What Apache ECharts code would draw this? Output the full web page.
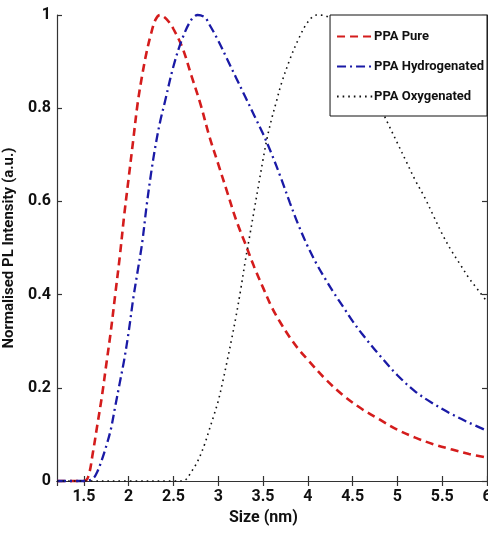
<!DOCTYPE html>
<html><head><meta charset="utf-8">
<script src="https://cdn.jsdelivr.net/npm/echarts@6/dist/echarts.min.js"></script>
<style>html,body{margin:0;padding:0;background:#fff}#c{width:488px;height:537px}</style>
</head><body><div id="c"></div>
<script>
const seriesNames = ['PPA Pure', 'PPA Hydrogenated', 'PPA Oxygenated'];
const pureX = [1.2,1.3,1.4,1.5,1.55,1.6,1.65,1.7,1.75,1.8,1.85,1.9,1.95,2.0,2.05,2.1,2.15,2.2,2.25,2.3,2.35,2.4,2.45,2.5,2.6,2.7,2.8,2.9,3.0,3.1,3.2,3.3,3.4,3.5,3.6,3.7,3.8,3.9,4.0,4.2,4.4,4.6,4.8,5.0,5.2,5.4,5.6,5.8,6.0];
const pureY = [0,0,0,0,0.01,0.06,0.12,0.18,0.25,0.32,0.40,0.48,0.57,0.65,0.73,0.81,0.87,0.92,0.96,0.99,1.0,0.995,0.985,0.97,0.93,0.87,0.81,0.74,0.68,0.62,0.56,0.51,0.46,0.415,0.372,0.338,0.308,0.282,0.26,0.218,0.183,0.155,0.132,0.11,0.093,0.079,0.068,0.058,0.05];
const hydroX = [1.2,1.3,1.4,1.5,1.6,1.65,1.7,1.75,1.8,1.85,1.9,1.95,2.0,2.05,2.1,2.15,2.2,2.25,2.3,2.35,2.4,2.5,2.6,2.7,2.77,2.85,2.9,3.0,3.1,3.2,3.3,3.4,3.5,3.6,3.7,3.8,3.9,4.0,4.1,4.2,4.3,4.4,4.5,4.6,4.8,5.0,5.2,5.4,5.6,5.8,6.0];
const hydroY = [0,0,0,0,0.005,0.02,0.045,0.075,0.11,0.16,0.21,0.26,0.32,0.39,0.45,0.51,0.59,0.66,0.72,0.77,0.81,0.89,0.95,0.99,1.0,0.995,0.98,0.945,0.905,0.865,0.825,0.785,0.745,0.70,0.65,0.597,0.547,0.503,0.465,0.432,0.401,0.372,0.343,0.317,0.27,0.227,0.192,0.166,0.144,0.125,0.108];
const oxyX = [1.2,1.5,2.0,2.5,2.6,2.65,2.7,2.75,2.8,2.85,2.9,2.95,3.0,3.05,3.1,3.15,3.2,3.25,3.3,3.35,3.4,3.45,3.5,3.55,3.6,3.65,3.7,3.8,3.9,4.0,4.1,4.2,4.3,4.4,4.5,4.6,4.7,4.8,4.9,5.0,5.1,5.2,5.3,5.4,5.5,5.6,5.7,5.8,5.9,6.0];
const oxyY = [0,0,0,0,0,0.005,0.02,0.035,0.055,0.08,0.11,0.14,0.172,0.213,0.258,0.305,0.355,0.41,0.47,0.525,0.58,0.635,0.69,0.74,0.78,0.815,0.85,0.905,0.95,0.985,1.0,0.998,0.985,0.96,0.925,0.885,0.845,0.805,0.765,0.725,0.685,0.645,0.61,0.57,0.53,0.495,0.465,0.435,0.41,0.385];
const xTitle = 'Size (nm)';
const yTitle = 'Normalised PL Intensity (a.u.)';

const zip = (xs, ys) => xs.map((x, i) => [x, ys[i]]);
const FONT = "Roboto, 'Liberation Sans', sans-serif";
const axisLineStyle = { color: '#333', width: 1.2 };

const chart = echarts.init(document.getElementById('c'), null, { renderer: 'canvas' });
chart.setOption({
  backgroundColor: '#fff',
  animation: false,
  grid: { left: 57, right: 1, top: 15, bottom: 56, containLabel: false, outerBoundsMode: 'none' },
  title: {
    text: xTitle, left: 224, top: 505,
    textStyle: { fontFamily: FONT, fontWeight: 'bold', fontSize: 16, color: '#111' }
  },
  legend: {
    orient: 'vertical', right: 1, top: 15,
    backgroundColor: '#fff', borderColor: '#111', borderWidth: 1, borderRadius: 0,
    padding: [15, 3, 13, 6], itemGap: 17, itemWidth: 36, itemHeight: 14,
    itemStyle: { opacity: 0 },
    textStyle: { fontFamily: FONT, fontWeight: 'bold', fontSize: 13, color: '#111', padding: [0, 0, 0, -4] },
    data: seriesNames
  },
  xAxis: [{
    type: 'value', min: 1.2, max: 6, splitNumber: 10,
    axisLine: { show: true, lineStyle: axisLineStyle },
    axisTick: { show: true, inside: true, length: 5, lineStyle: axisLineStyle },
    splitLine: { show: false },
    axisLabel: { showMinLabel: false, margin: 8, fontFamily: FONT, fontWeight: 'bold', fontSize: 16, color: '#111' }
  }, {
    type: 'value', min: 1.2, max: 6, splitNumber: 10, position: 'top',
    axisLine: { show: true, lineStyle: axisLineStyle },
    axisTick: { show: true, inside: true, length: 5, lineStyle: axisLineStyle },
    splitLine: { show: false }, axisLabel: { show: false }
  }],
  yAxis: [{
    type: 'value', min: 0, max: 1, interval: 0.2,
    name: yTitle, nameLocation: 'middle', nameGap: 30, nameRotate: 90,
    nameTextStyle: { fontFamily: FONT, fontWeight: 'bold', fontSize: 15, color: '#111' },
    axisLine: { show: true, lineStyle: axisLineStyle },
    axisTick: { show: true, inside: true, length: 5, lineStyle: axisLineStyle },
    splitLine: { show: false },
    axisLabel: { margin: 6, fontFamily: FONT, fontWeight: 'bold', fontSize: 16, color: '#111' }
  }, {
    type: 'value', min: 0, max: 1, interval: 0.2, position: 'right',
    axisLine: { show: true, lineStyle: axisLineStyle },
    axisTick: { show: true, inside: true, length: 5, lineStyle: axisLineStyle },
    splitLine: { show: false }, axisLabel: { show: false }
  }],
  series: [{
    name: seriesNames[0], type: 'line', data: zip(pureX, pureY), symbol: 'none', smooth: 0.35, clip: false,
    color: '#d41c1c', lineStyle: { color: '#d41c1c', width: 2.6, type: [8, 5] }
  }, {
    name: seriesNames[1], type: 'line', data: zip(hydroX, hydroY), symbol: 'none', smooth: 0.35, clip: false,
    color: '#1a1aa6', lineStyle: { color: '#1a1aa6', width: 2.3, type: [9, 4, 2, 4] }
  }, {
    name: seriesNames[2], type: 'line', data: zip(oxyX, oxyY), symbol: 'none', smooth: 0.35, clip: false,
    color: '#111', lineStyle: { color: '#111', width: 1.6, type: [1.6, 4] }
  }]
});
</script>
</body></html>
